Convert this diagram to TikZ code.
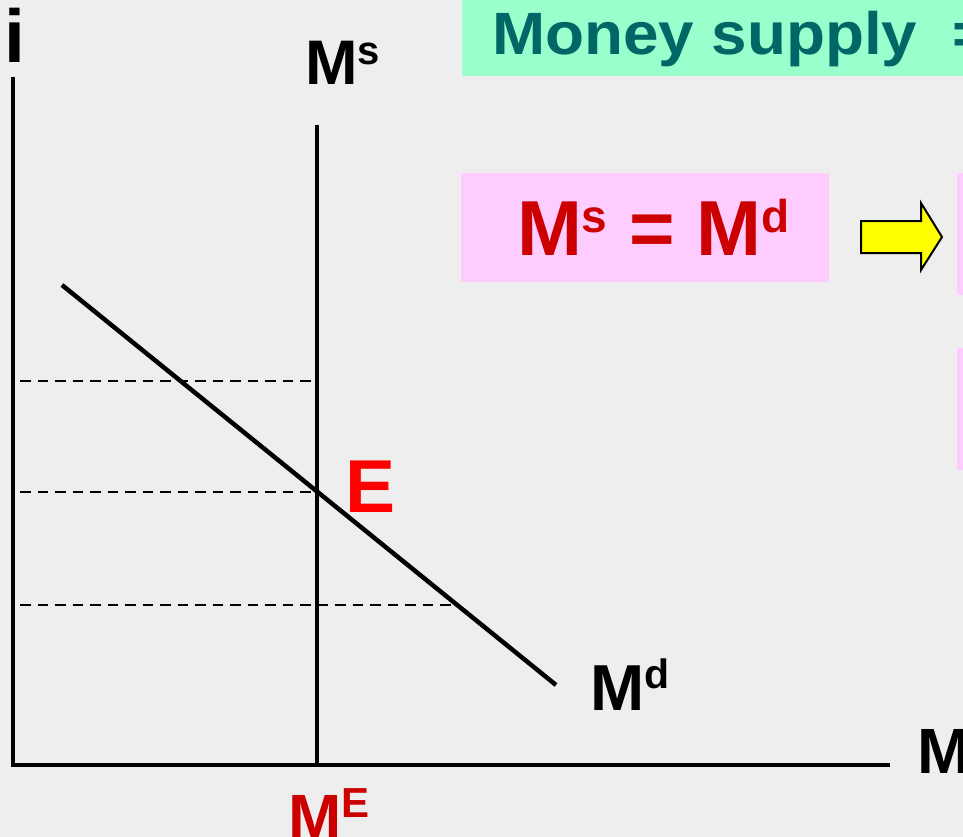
\documentclass[tikz,border=0pt]{standalone}
\usepackage{fontspec}
\setmainfont{Liberation Sans}
\definecolor{bgcol}{RGB}{238,238,238}
\definecolor{titlebg}{RGB}{153,255,204}
\definecolor{titlefg}{RGB}{0,102,102}
\definecolor{pinkbg}{RGB}{255,204,255}
\definecolor{darkred}{RGB}{204,0,0}
\definecolor{brightred}{RGB}{255,0,0}
\definecolor{arrowyellow}{RGB}{255,255,0}
\newcommand\mysup[3]{\raisebox{#2pt}{\fontsize{#1}{#1}\selectfont #3}}
\newcommand\fsz[1]{\fontsize{#1}{#1}\selectfont}
\begin{document}
\begin{tikzpicture}[x=1pt,y=-1pt,
  lbl/.style={inner sep=0pt, outer sep=0pt, anchor=base west, font=\bfseries},
  axisline/.style={line width=3.2pt, black},
  curveline/.style={line width=4.5pt, black},
  guide/.style={line width=2.4pt, black, dash pattern=on 10.5pt off 7pt},
]
\useasboundingbox (0,0) rectangle (963,837);
\fill[bgcol] (0,0) rectangle (963,837);

% boxes
\fill[titlebg] (462,-2) rectangle (965,76);
\fill[pinkbg] (461,173) rectangle (829,282);
\fill[pinkbg] (957,173) rectangle (965,295);
\fill[pinkbg] (957,348) rectangle (965,470);

% coordinates
\coordinate (ytop) at (13,77);
\coordinate (origin) at (13,765);
\coordinate (xend) at (890,765);
\coordinate (mstop) at (317,125);
\coordinate (msbot) at (317,765);
\coordinate (mdtop) at (62,285);
\coordinate (mdbot) at (556,685);
\coordinate (g1a) at (20,381);
\coordinate (g1b) at (317,381);
\coordinate (g2a) at (20,492);
\coordinate (g2b) at (317,492);
\coordinate (g3a) at (20,605);
\coordinate (g3b) at (457,605);

% guides
\draw[guide] (g1a) -- (g1b);
\draw[guide] (g2a) -- (g2b);
\draw[guide] (g3a) -- (g3b);

% axes
\draw[axisline] (ytop) -- (origin) -- (xend);
% curves
\draw[curveline] (mstop) -- (msbot);
\draw[curveline] (mdtop) -- (mdbot);

% labels
\node[lbl] (ilbl) at (5,63) {\fsz{75}i};
\node[lbl] (mxlbl) at (917,773) {\fsz{64}M};
\node[lbl] (mslbl) at (305,85) {\fsz{63}M\mysup{40}{20}{s}};
\node[lbl] (mdlbl) at (590,710) {\fsz{65}M\mysup{41}{22}{d}};
\node[lbl, text=brightred] (elbl) at (345,512) {\fsz{75}E};
\node[lbl, text=darkred] (melbl) at (288,839) {\fsz{64}M\mysup{42}{22}{E}};

\node[lbl, text=titlefg] (title) at (492,55) {\scalebox{1.1}[1.03]{\fsz{58}Money supply\ \ =}};
\node[lbl, text=darkred] (eq) at (517,255) {\fsz{78}M\mysup{46}{23}{s} = M\mysup{46}{23}{d}};

% arrow
\draw[fill=arrowyellow, line width=2pt, line join=miter] (861,221) -- (921,221) -- (921,203) -- (942,237) -- (921,270) -- (921,253) -- (861,253) -- cycle;
\end{tikzpicture}
\end{document}
